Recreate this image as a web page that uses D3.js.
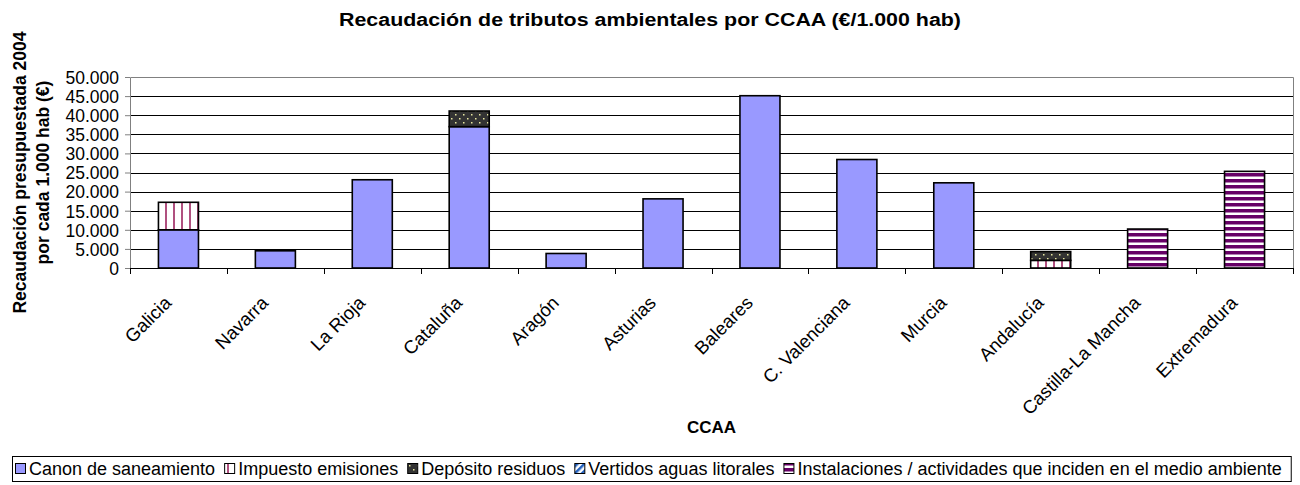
<!DOCTYPE html>
<html>
<head>
<meta charset="utf-8">
<script src="https://cdn.jsdelivr.net/npm/d3@7"></script>
<style>
  body { margin: 0; background: #fff; }
  text { font-family: "Liberation Sans", Arial, sans-serif; fill: #000; }
  .title, .axis_title { font-weight: bold; }
</style>
</head>
<body>
<div id="chart"></div>
<script>
// categories (CCAA)
var ccaa = ["Galicia", "Navarra", "La Rioja", "Cataluña", "Aragón", "Asturias",
            "Baleares", "C. Valenciana", "Murcia", "Andalucía", "Castilla-La Mancha", "Extremadura"];

// series values (€ per 1.000 hab)
var canon         = [10000, 4500, 23100, 37000, 3800, 18100, 45100, 28400, 22300, 0, 0, 0];
var impuesto      = [7200, 0, 0, 0, 0, 0, 0, 0, 0, 2000, 0, 0];
var deposito      = [0, 0, 0, 4100, 0, 0, 0, 0, 0, 2300, 0, 0];
var vertidos      = [0, 0, 0, 0, 0, 0, 0, 0, 0, 0, 0, 0];
var instalaciones = [0, 0, 0, 0, 0, 0, 0, 0, 0, 0, 10200, 25300];

var seriesNames = ["Canon de saneamiento", "Impuesto emisiones", "Depósito residuos",
                   "Vertidos aguas litorales", "Instalaciones / actividades que inciden en el medio ambiente"];
var yTicks = [0, 5000, 10000, 15000, 20000, 25000, 30000, 35000, 40000, 45000, 50000];

var w = 1300, h = 485;
var marges = {left: 130, right: 7, top: 77, bottom: 217};
var graf_w = w - marges.left - marges.right;
var graf_h = h - marges.top - marges.bottom;

var keys = ["canon", "impuesto", "deposito", "vertidos", "instalaciones"];
var table = ccaa.map(function(c, i) {
    return {ccaa: c, canon: canon[i], impuesto: impuesto[i], deposito: deposito[i],
            vertidos: vertidos[i], instalaciones: instalaciones[i]};
});

var svg = d3.select("#chart").append("svg")
    .attr("width", w)
    .attr("height", h);

// <-- PATTERNS -------------
var defs = svg.append("defs");

var pImp = defs.append("pattern").attr("id", "p_impuesto")
    .attr("patternUnits", "userSpaceOnUse").attr("width", 8).attr("height", 8);
pImp.append("rect").attr("width", 8).attr("height", 8).attr("fill", "#fff");
pImp.append("rect").attr("x", 3).attr("width", 2).attr("height", 8).attr("fill", "#b0507f");

var pDep = defs.append("pattern").attr("id", "p_deposito")
    .attr("patternUnits", "userSpaceOnUse").attr("width", 8).attr("height", 8);
pDep.append("rect").attr("width", 8).attr("height", 8).attr("fill", "#333333");
pDep.append("rect").attr("x", 1).attr("y", 1).attr("width", 1.5).attr("height", 1.5).attr("fill", "#e8e8a0");
pDep.append("rect").attr("x", 5).attr("y", 5).attr("width", 1.5).attr("height", 1.5).attr("fill", "#e8e8a0");

var pVer = defs.append("pattern").attr("id", "p_vertidos")
    .attr("patternUnits", "userSpaceOnUse").attr("width", 5).attr("height", 5)
    .attr("patternTransform", "rotate(45)");
pVer.append("rect").attr("width", 5).attr("height", 5).attr("fill", "#fff");
pVer.append("rect").attr("width", 2.5).attr("height", 5).attr("fill", "#1f5fbf");

var pIns = defs.append("pattern").attr("id", "p_instalaciones")
    .attr("patternUnits", "userSpaceOnUse").attr("width", 6).attr("height", 6);
pIns.append("rect").attr("width", 6).attr("height", 6).attr("fill", "#fff");
pIns.append("rect").attr("y", 0).attr("width", 6).attr("height", 3.5).attr("fill", "#660066");

var fills = {
    canon: "#9999ff",
    impuesto: "url(#p_impuesto)",
    deposito: "url(#p_deposito)",
    vertidos: "url(#p_vertidos)",
    instalaciones: "url(#p_instalaciones)"
};
// -- PATTERNS ------------->

var g = svg.append("g")
    .attr("transform", "translate(" + marges.left + "," + marges.top + ")");

// <-- SCALES -------------
var x = d3.scaleBand()
    .domain(ccaa)
    .range([0, graf_w])
    .paddingInner(0.587)
    .paddingOuter(0.2935);

var y = d3.scaleLinear()
    .domain([0, 50000])
    .range([graf_h, 0]);
// -- SCALES ------------->

// gridlines
g.append("g")
    .selectAll("line")
    .data(yTicks.slice(1, -1))
    .enter().append("line")
    .attr("x1", 0).attr("x2", graf_w)
    .attr("y1", function(d) { return Math.round(y(d)) + 0.5; })
    .attr("y2", function(d) { return Math.round(y(d)) + 0.5; })
    .attr("stroke", "#000")
    .attr("stroke-width", 1);

// plot border (top / right)
g.append("path")
    .attr("d", "M0.5,0.5H" + (graf_w + 0.5) + "V" + graf_h)
    .attr("fill", "none")
    .attr("stroke", "#808080")
    .attr("stroke-width", 1);

// <-- Y AXIS -------------
var fmt = d3.formatLocale({decimal: ",", thousands: ".", grouping: [3]}).format(",.0f");
var yaxis = g.append("g")
    .attr("class", "yaxis")
    .call(d3.axisLeft(y).tickValues(yTicks).tickSize(5).tickPadding(6).tickFormat(fmt));
yaxis.select(".domain").attr("stroke", "#808080").attr("d", "M0.5," + graf_h + "V0.5");
yaxis.selectAll(".tick line").attr("stroke", "#808080");
yaxis.selectAll(".tick text").style("font-size", "17.5px").attr("dy", "0.36em");
// -- Y AXIS ------------->

// <-- BARS -------------
var stacked = d3.stack().keys(keys)(table);

g.append("g")
    .selectAll("g")
    .data(stacked)
    .enter().append("g")
    .attr("fill", function(d) { return fills[d.key]; })
    .selectAll("rect")
    .data(function(d) { return d.filter(function(s) { return s[1] - s[0] > 0; }); })
    .enter().append("rect")
    .attr("x", function(d) { return x(d.data.ccaa); })
    .attr("y", function(d) { return y(d[1]); })
    .attr("height", function(d) { return y(d[0]) - y(d[1]); })
    .attr("width", x.bandwidth())
    .attr("stroke", "#000")
    .attr("stroke-width", 1.6);
// -- BARS ------------->

// <-- X AXIS -------------
var step = x.step();
var xaxis = g.append("g")
    .attr("transform", "translate(0," + graf_h + ")");
xaxis.append("line")
    .attr("x1", 0).attr("x2", graf_w + 0.5)
    .attr("y1", 0.5).attr("y2", 0.5)
    .attr("stroke", "#000");
xaxis.selectAll(".xtick")
    .data(ccaa.concat(["end"]))
    .enter().append("line")
    .attr("class", "xtick")
    .attr("x1", function(d, i) { return Math.round(i * step) + 0.5; })
    .attr("x2", function(d, i) { return Math.round(i * step) + 0.5; })
    .attr("y1", 0).attr("y2", 6)
    .attr("stroke", "#000");
xaxis.selectAll(".xlabel")
    .data(ccaa)
    .enter().append("text")
    .attr("class", "xlabel")
    .attr("text-anchor", "end")
    .style("font-size", "18.5px")
    .attr("transform", function(d) {
        return "translate(" + (x(d) + x.bandwidth() / 2 - 6) + ",36) rotate(-45)";
    })
    .text(function(d) { return d; });
// -- X AXIS ------------->

// titles
svg.append("text")
    .attr("class", "title")
    .attr("x", 650).attr("y", 26)
    .attr("text-anchor", "middle")
    .attr("textLength", 622)
    .attr("lengthAdjust", "spacingAndGlyphs")
    .style("font-size", "18px")
    .text("Recaudación de tributos ambientales por CCAA (€/1.000 hab)");

svg.append("text")
    .attr("class", "axis_title")
    .attr("x", marges.left + graf_w / 2).attr("y", 433)
    .attr("text-anchor", "middle")
    .style("font-size", "17px")
    .text("CCAA");

var ylab = svg.append("text")
    .attr("class", "axis_title")
    .attr("transform", "translate(20," + (marges.top + graf_h / 2) + ") rotate(-90)")
    .attr("text-anchor", "middle")
    .style("font-size", "17.5px");
ylab.append("tspan").attr("x", 0).attr("dy", "0.35em").text("Recaudación presupuestada 2004");
ylab.append("tspan").attr("x", 0).attr("dy", "1.3em").text("por cada 1.000 hab (€)");

// <-- LEGEND -------------
var legend = svg.append("g").attr("class", "legend");
var legendBox = legend.append("rect")
    .attr("x", 12.5).attr("y", 456.5)
    .attr("height", 25)
    .attr("fill", "#fff")
    .attr("stroke", "#000");
var lx = 15;
keys.forEach(function(k, i) {
    legend.append("rect")
        .attr("x", lx + 0.5).attr("y", 463.5)
        .attr("width", 10).attr("height", 10)
        .attr("fill", fills[k])
        .attr("stroke", "#000")
        .attr("stroke-width", 1);
    var t = legend.append("text")
        .attr("x", lx + 14).attr("y", 475)
        .style("font-size", "18px")
        .text(seriesNames[i]);
    lx = lx + 14 + t.node().getComputedTextLength() + 9;
});
legendBox.attr("width", lx - 12);
// -- LEGEND ------------->
</script>
</body>
</html>
